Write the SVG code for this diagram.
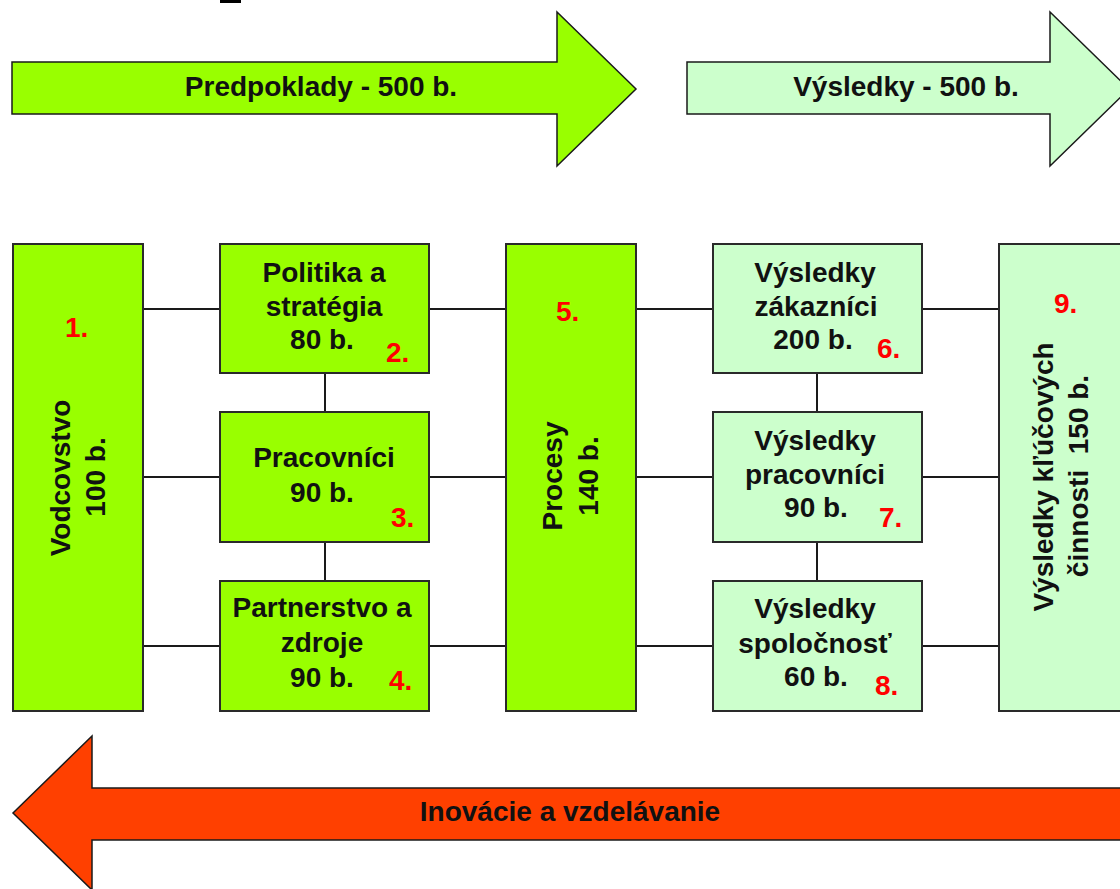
<svg xmlns="http://www.w3.org/2000/svg" width="1120" height="889" viewBox="0 0 1120 889">
<style>
.t{font-family:"Liberation Sans",Arial,sans-serif;font-weight:bold;font-size:28px;fill:#111;text-anchor:middle}
.n{font-family:"Liberation Sans",Arial,sans-serif;font-weight:bold;font-size:28px;fill:#ff0000}
.g{fill:#99ff00;stroke:#2a2a2a;stroke-width:2}
.l{fill:#ccffcc;stroke:#2a2a2a;stroke-width:2}
.ar{stroke:#1a1a1a;stroke-width:1.5;stroke-linejoin:miter}
.c line{stroke:#1a1a1a;stroke-width:2}
</style>
<rect width="1120" height="889" fill="#fff"/>
<rect x="220" y="0" width="21" height="3" fill="#000"/>
<g id="arrow-predpoklady">
<polygon class="ar" fill="#99ff00" points="12,62 557,62 557,12 636,89 557,166 557,114 12,114"/>
<text class="t" x="321" y="96">Predpoklady - 500 b.</text>
</g>
<g id="arrow-vysledky">
<polygon class="ar" fill="#ccffcc" points="687,62 1050,62 1050,12 1129,89 1050,166 1050,114 687,114"/>
<text class="t" x="906" y="96">Výsledky - 500 b.</text>
</g>
<g id="arrow-inovacie">
<polygon class="ar" fill="#ff4000" points="1125,788 92,788 92,736 13,813 92,890 92,840 1125,840"/>
<text class="t" x="570" y="821">Inovácie a vzdelávanie</text>
</g>
<g class="c" id="connectors">
<line x1="143" y1="309" x2="220" y2="309"/>
<line x1="143" y1="477" x2="220" y2="477"/>
<line x1="143" y1="646" x2="220" y2="646"/>
<line x1="429" y1="309" x2="506" y2="309"/>
<line x1="429" y1="477" x2="506" y2="477"/>
<line x1="429" y1="646" x2="506" y2="646"/>
<line x1="325" y1="373" x2="325" y2="412"/>
<line x1="325" y1="542" x2="325" y2="581"/>
<line x1="636" y1="309" x2="713" y2="309"/>
<line x1="636" y1="477" x2="713" y2="477"/>
<line x1="636" y1="646" x2="713" y2="646"/>
<line x1="922" y1="309" x2="999" y2="309"/>
<line x1="922" y1="477" x2="999" y2="477"/>
<line x1="922" y1="646" x2="999" y2="646"/>
<line x1="817" y1="373" x2="817" y2="412"/>
<line x1="817" y1="542" x2="817" y2="581"/>
</g>
<g id="n1">
<rect class="g" x="13" y="244" width="130" height="467"/>
<text class="n" x="65" y="337">1.</text>
<text class="t" transform="translate(70,478) rotate(-90)">Vodcovstvo</text>
<text class="t" transform="translate(105,477) rotate(-90)">100 b.</text>
</g>
<g id="n2">
<rect class="g" x="220" y="244" width="209" height="129"/>
<text class="t" x="324" y="282">Politika a</text>
<text class="t" x="324" y="316">stratégia</text>
<text class="t" x="322" y="349">80 b.</text>
<text class="n" x="386" y="362">2.</text>
</g>
<g id="n3">
<rect class="g" x="220" y="412" width="209" height="130"/>
<text class="t" x="324" y="467">Pracovníci</text>
<text class="t" x="322" y="502">90 b.</text>
<text class="n" x="391" y="527">3.</text>
</g>
<g id="n4">
<rect class="g" x="220" y="581" width="209" height="130"/>
<text class="t" x="322" y="617">Partnerstvo a</text>
<text class="t" x="322" y="652">zdroje</text>
<text class="t" x="322" y="687">90 b.</text>
<text class="n" x="389" y="690">4.</text>
</g>
<g id="n5">
<rect class="g" x="506" y="244" width="130" height="467"/>
<text class="n" x="556" y="321">5.</text>
<text class="t" transform="translate(562,476) rotate(-90)">Procesy</text>
<text class="t" transform="translate(598,476) rotate(-90)">140 b.</text>
</g>
<g id="n6">
<rect class="l" x="713" y="244" width="209" height="129"/>
<text class="t" x="815" y="282">Výsledky</text>
<text class="t" x="816" y="316">zákazníci</text>
<text class="t" x="813" y="349">200 b.</text>
<text class="n" x="877" y="358">6.</text>
</g>
<g id="n7">
<rect class="l" x="713" y="412" width="209" height="130"/>
<text class="t" x="815" y="450">Výsledky</text>
<text class="t" x="815" y="484">pracovníci</text>
<text class="t" x="816" y="517">90 b.</text>
<text class="n" x="879" y="527">7.</text>
</g>
<g id="n8">
<rect class="l" x="713" y="581" width="209" height="130"/>
<text class="t" x="815" y="618">Výsledky</text>
<text class="t" x="815" y="653">spoločnosť</text>
<text class="t" x="816" y="686">60 b.</text>
<text class="n" x="875" y="695">8.</text>
</g>
<g id="n9">
<rect class="l" x="999" y="244" width="140" height="467"/>
<text class="n" x="1054" y="313">9.</text>
<text class="t" transform="translate(1053,477) rotate(-90)">Výsledky kľúčových</text>
<text class="t" style="white-space:pre" transform="translate(1088,476) rotate(-90)">činnosti  150 b.</text>
</g>
</svg>
